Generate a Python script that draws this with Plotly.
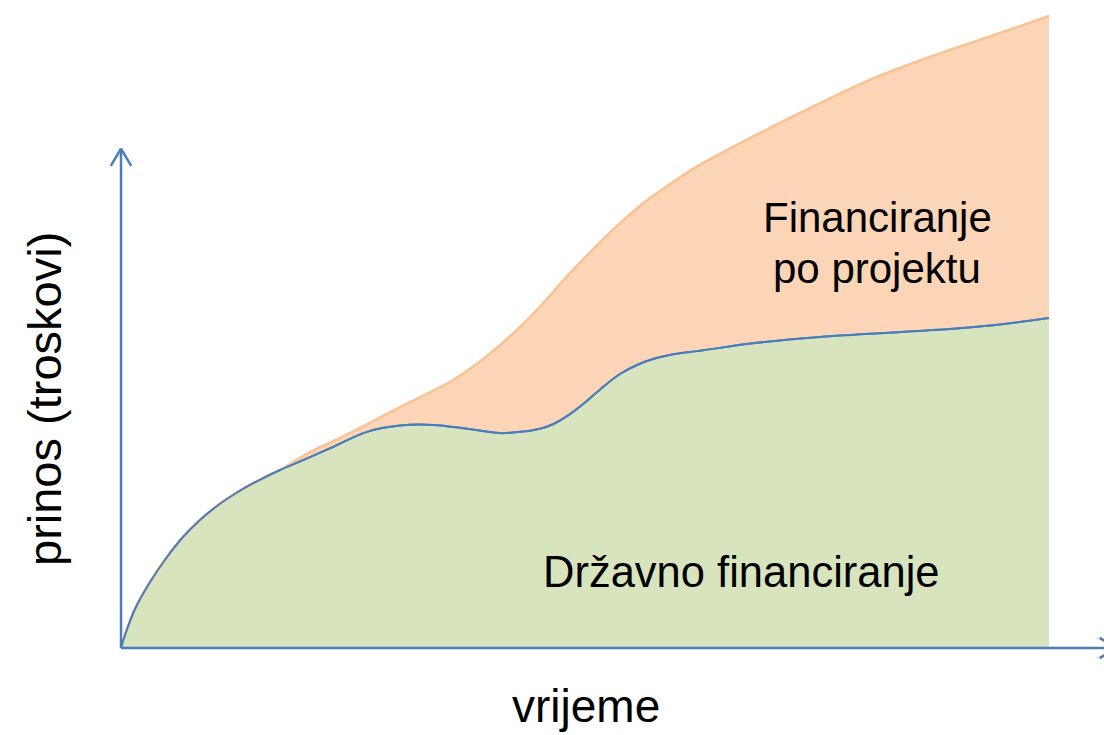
import plotly.graph_objects as go

# ---- data (time units 0..10, value units 0..100) ----
vrijeme_drzavno = [0, 0.043, 0.151, 0.313, 0.496, 0.668, 0.851, 1.034, 1.207, 1.39, 1.713,
                   2.037, 2.284, 2.651, 3.006, 3.36, 3.73, 4.08, 4.30, 4.515, 4.655, 4.838,
                   5.022, 5.194, 5.377, 5.56, 5.733, 5.916, 6.131, 6.272, 6.81, 7.532,
                   8.75, 9.47, 10]
prinos_drzavno = [0, 2.06, 6.17, 10.44, 14.4, 17.56, 20.25, 22.47, 24.2, 25.8, 28.16,
                  30.2, 31.8, 34.2, 35.2, 35.3, 34.7, 34.0, 34.2, 34.7, 35.4, 37.0,
                  39.1, 41.3, 43.35, 44.78, 45.73, 46.36, 46.84, 47.1, 48.2, 49.2,
                  50.3, 51.2, 52.2]

vrijeme_ukupno = [0, 0.043, 0.151, 0.313, 0.496, 0.668, 0.851, 1.034, 1.207, 1.39, 1.713,
                  2.037, 2.284, 2.651, 3.006, 3.578, 3.944, 4.30, 4.569, 4.838, 5.108,
                  5.377, 5.647, 5.916, 6.186, 6.455, 6.994, 7.532, 8.039, 8.75, 9.472, 10]
prinos_ukupno = [0, 2.06, 6.17, 10.44, 14.4, 17.56, 20.25, 22.47, 24.2, 25.8, 28.16,
                 31.0, 32.7, 35.4, 38.1, 42.4, 46.2, 50.8, 54.9, 59.3, 63.4,
                 67.2, 70.6, 73.4, 76.0, 78.2, 82.3, 86.2, 89.7, 93.7, 97.3, 100]

label_drzavno = "Državno financiranje"
label_projekt = ["Financiranje", "po projektu"]
x_title = "vrijeme"
y_title = "prinos (troskovi)"

GREEN = "#d7e4bd"
ORANGE = "#fbd5b5"
ORANGE_LINE = "#f9c290"
BLUE = "#4a7ebb"
FONT = "Arial, Liberation Sans, sans-serif"
SMOOTH = 1.0

fig = go.Figure()
fig.add_trace(go.Scatter(
    x=vrijeme_drzavno, y=prinos_drzavno, mode="lines",
    line=dict(color=BLUE, width=2, shape="spline", smoothing=SMOOTH),
    fill="tozeroy", fillcolor=GREEN, hoverinfo="skip", showlegend=False))
fig.add_trace(go.Scatter(
    x=vrijeme_ukupno, y=prinos_ukupno, mode="lines",
    line=dict(color=ORANGE_LINE, width=2.5, shape="spline", smoothing=SMOOTH),
    fill="tonexty", fillcolor=ORANGE, hoverinfo="skip", showlegend=False))
# redraw blue boundary on top of orange fill
fig.add_trace(go.Scatter(
    x=vrijeme_drzavno, y=prinos_drzavno, mode="lines",
    line=dict(color=BLUE, width=2, shape="spline", smoothing=SMOOTH),
    hoverinfo="skip", showlegend=False))

# axes with arrows (drawn in data coordinates)
y_tip = 79
x_tip = 10.73
axis_line = dict(color=BLUE, width=2.5)
shapes = [
    dict(type="line", xref="x", yref="y", x0=0, y0=0, x1=0, y1=y_tip, line=axis_line),
    dict(type="line", xref="x", yref="y", x0=0, y0=y_tip, x1=-0.11, y1=y_tip - 2.7, line=axis_line),
    dict(type="line", xref="x", yref="y", x0=0, y0=y_tip, x1=0.11, y1=y_tip - 2.7, line=axis_line),
    dict(type="line", xref="x", yref="y", x0=0, y0=0, x1=x_tip, y1=0, line=axis_line),
    dict(type="line", xref="x", yref="y", x0=x_tip, y0=0, x1=x_tip - 0.185, y1=1.6, line=axis_line),
    dict(type="line", xref="x", yref="y", x0=x_tip, y0=0, x1=x_tip - 0.185, y1=-1.6, line=axis_line),
]

W, H = 1104, 735
def px(xp):
    return xp / W
def py(yp):
    return 1 - yp / H

annotations = [
    dict(text=label_projekt[0], x=px(877), y=py(218), xref="paper", yref="paper",
         showarrow=False, xanchor="center", yanchor="middle",
         font=dict(family=FONT, size=42, color="black")),
    dict(text=label_projekt[1], x=px(877), y=py(268), xref="paper", yref="paper",
         showarrow=False, xanchor="center", yanchor="middle",
         font=dict(family=FONT, size=42, color="black")),
    dict(text=label_drzavno, x=px(741), y=py(572), xref="paper", yref="paper",
         showarrow=False, xanchor="center", yanchor="middle",
         font=dict(family=FONT, size=43.5, color="black")),
    dict(text=x_title, x=px(586), y=py(706), xref="paper", yref="paper",
         showarrow=False, xanchor="center", yanchor="middle",
         font=dict(family=FONT, size=46, color="black")),
    dict(text=y_title, x=px(45), y=py(399), xref="paper", yref="paper",
         showarrow=False, xanchor="center", yanchor="middle", textangle=-90,
         font=dict(family=FONT, size=47, color="black")),
]

fig.update_layout(
    width=W, height=H, autosize=False,
    margin=dict(l=0, r=0, t=0, b=0),
    paper_bgcolor="white", plot_bgcolor="white",
    xaxis=dict(range=[-1.304, 10.593], visible=False, fixedrange=True),
    yaxis=dict(range=[-13.77, 102.53], visible=False, fixedrange=True),
    shapes=shapes, annotations=annotations,
)

fig.write_html("out.html", config={"displayModeBar": False, "staticPlot": True})
